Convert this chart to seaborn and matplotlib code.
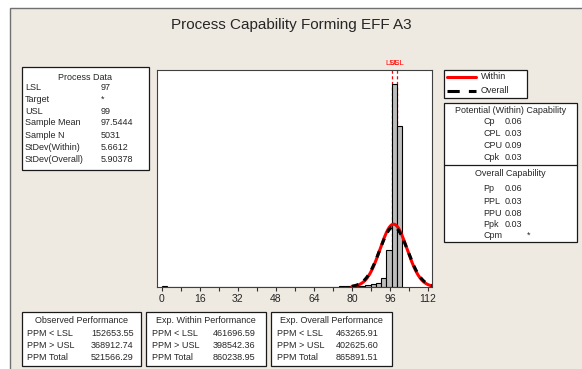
import numpy as np
import pandas as pd
import matplotlib
matplotlib.use("Agg")
import matplotlib.pyplot as plt
from matplotlib.patches import Rectangle
from matplotlib.lines import Line2D
from matplotlib.transforms import blended_transform_factory
import seaborn as sns

# ---- histogram of the measurements (bin midpoints and counts) ----
bin_mid = [1.0, 73.6, 75.8, 78.0, 80.2, 82.4, 84.6, 86.8, 89.0, 91.2, 93.4, 95.6, 97.8, 100.0]
bin_count = [8, 5, 8, 8, 10, 12, 18, 25, 37, 50, 112, 460, 2521, 2000]
bin_width = 2.2
bin_range = (-0.1, 101.1)

# ---- process statistics ----
lsl = 97
usl = 99
sample_mean = 97.5444
sample_n = 5031
sd_within = 5.6612
sd_overall = 5.90378

process_labels = ["LSL", "Target", "USL", "Sample Mean", "Sample N",
                  "StDev(Within)", "StDev(Overall)"]
process_values = ["97", "*", "99", "97.5444", "5031", "5.6612", "5.90378"]

within_cap_labels = ["Cp", "CPL", "CPU", "Cpk"]
within_cap_values = ["0.06", "0.03", "0.09", "0.03"]
overall_cap_labels = ["Pp", "PPL", "PPU", "Ppk", "Cpm"]
overall_cap_values = ["0.06", "0.03", "0.08", "0.03", "*"]

perf_titles = ["Observed Performance", "Exp. Within Performance",
               "Exp. Overall Performance"]
perf_labels = ["PPM < LSL", "PPM > USL", "PPM Total"]
observed_ppm = ["152653.55", "368912.74", "521566.29"]
within_ppm = ["461696.59", "398542.36", "860238.95"]
overall_ppm = ["463265.91", "402625.60", "865891.51"]

x_ticks = [0, 16, 32, 48, 64, 80, 96, 112]

# ---- styling ----
sns.set_style("white")
plt.rcParams["font.family"] = ["Liberation Sans", "DejaVu Sans"]

W, H = 582, 369
BEIGE = "#EEEAE1"
fig = plt.figure(figsize=(W / 100, H / 100), dpi=100, facecolor="white")


def fx(x):
    return x / W


def fy(y):
    return 1 - y / H


def panel(x0, y0, x1, y1, face="white", edge="#1a1a1a", lw=0.9, z=1):
    fig.add_artist(Rectangle((fx(x0), fy(y1)), (x1 - x0) / W, (y1 - y0) / H,
                             transform=fig.transFigure, facecolor=face,
                             edgecolor=edge, lw=lw, zorder=z))


def label(x, y, s, size=6.5, **kw):
    fig.text(fx(x), fy(y), s, fontsize=size, va="center", **kw)


# outer frame
panel(10, 8, 640, 420, face=BEIGE, edge="#707070", lw=1.0, z=-5)

label(291, 25, "Process Capability Forming EFF A3", size=11, ha="center")

# ---- main histogram axes ----
ax = fig.add_axes([fx(157), fy(287), (432 - 157) / W, (287 - 70) / H])
ax.set_facecolor("white")

sns.histplot(x=bin_mid, weights=bin_count, binwidth=bin_width, binrange=bin_range,
             stat="count", color="#BDBDBD", edgecolor="black", linewidth=0.8,
             alpha=1.0, ax=ax, zorder=2)

# fitted normal curves, scaled to counts per bin
xs = np.linspace(80, 113.7, 400)
scale = sample_n * bin_width


def normal_pdf(x, mu, sd):
    return np.exp(-0.5 * ((x - mu) / sd) ** 2) / (sd * np.sqrt(2 * np.pi))


curves = pd.DataFrame({
    "x": xs,
    "within": scale * normal_pdf(xs, sample_mean, sd_within),
    "overall": scale * normal_pdf(xs, sample_mean, sd_overall),
})
sns.lineplot(data=curves, x="x", y="within", color="#FF0000", lw=2.2, ax=ax, zorder=3)
sns.lineplot(data=curves, x="x", y="overall", color="black", lw=2.2,
             linestyle=(0, (2.2, 2.2)), ax=ax, zorder=4)

# specification limits
for v in (lsl, usl):
    ax.axvline(v, color="#FF0000", lw=0.9, ls=(0, (2.5, 2)), zorder=1)
trans = blended_transform_factory(ax.transData, ax.transAxes)
ax.text(lsl, 1.012, "LSL", color="#FF0000", fontsize=5.5, ha="center",
        va="bottom", transform=trans, clip_on=False)
ax.text(usl, 1.012, "USL", color="#FF0000", fontsize=5.5, ha="center",
        va="bottom", transform=trans, clip_on=False)

ax.set_xlim(-2.0, 113.7)
ax.set_ylim(0, 2695)
ax.set_xticks(x_ticks)
ax.set_xticklabels([str(t) for t in x_ticks])
ax.set_xticks([t + 8 for t in x_ticks[:-1]], minor=True)
ax.tick_params(axis="x", which="both", direction="out", length=3, width=0.8,
               color="#303030", labelsize=7.5, pad=2, bottom=True)
ax.set_yticks([])
ax.set_xlabel("")
ax.set_ylabel("")
for sp in ax.spines.values():
    sp.set_visible(True)
    sp.set_color("#404040")
    sp.set_linewidth(0.8)

# ---- process data panel ----
panel(22, 67, 149, 170)
label(85.5, 77, "Process Data", ha="center")
row_y = [88, 99.5, 111, 123, 135.5, 148, 160]
for yy, lab, val in zip(row_y, process_labels, process_values):
    label(25, yy, lab, ha="left")
    label(101, yy, val, ha="left")

# ---- legend panel ----
panel(444, 70, 527, 98)
fig.add_artist(Line2D([fx(447), fx(476)], [fy(76.5), fy(76.5)], color="#FF0000",
                      lw=2.2, transform=fig.transFigure, zorder=2))
fig.add_artist(Line2D([fx(447), fx(476)], [fy(90.5), fy(90.5)], color="black",
                      lw=2.2, ls=(0, (4, 3)), transform=fig.transFigure, zorder=2))
label(481, 76.5, "Within", ha="left")
label(481, 90.5, "Overall", ha="left")

# ---- capability panel ----
panel(444, 103, 577, 242)
fig.add_artist(Line2D([fx(444), fx(577)], [fy(165), fy(165)], color="#1a1a1a",
                      lw=0.9, transform=fig.transFigure, zorder=2))
label(510.5, 110.5, "Potential (Within) Capability", ha="center")
for yy, lab, val in zip([122, 134, 146, 158], within_cap_labels, within_cap_values):
    label(483, yy, lab, ha="left")
    label(505, yy, val, ha="left")
label(510.5, 173.5, "Overall Capability", ha="center")
for yy, lab, val in zip([188.5, 201, 213, 224.5, 235.5], overall_cap_labels,
                        overall_cap_values):
    label(483, yy, lab, ha="left")
    if val == "*":
        label(530, yy, val, ha="right")
    else:
        label(505, yy, val, ha="left")

# ---- performance panels ----
boxes = [(22, 141, 27, 91), (146, 266, 152, 213), (271, 392, 277, 336)]
for (x0, x1, lx, vx), title, vals in zip(boxes, perf_titles,
                                         [observed_ppm, within_ppm, overall_ppm]):
    panel(x0, 312, x1, 366)
    label((x0 + x1) / 2, 320.5, title, ha="center")
    for yy, lab, val in zip([333, 345.5, 358], perf_labels, vals):
        label(lx, yy, lab, ha="left")
        label(vx, yy, val, ha="left")

fig.savefig("out.png", dpi=100, facecolor=fig.get_facecolor())
